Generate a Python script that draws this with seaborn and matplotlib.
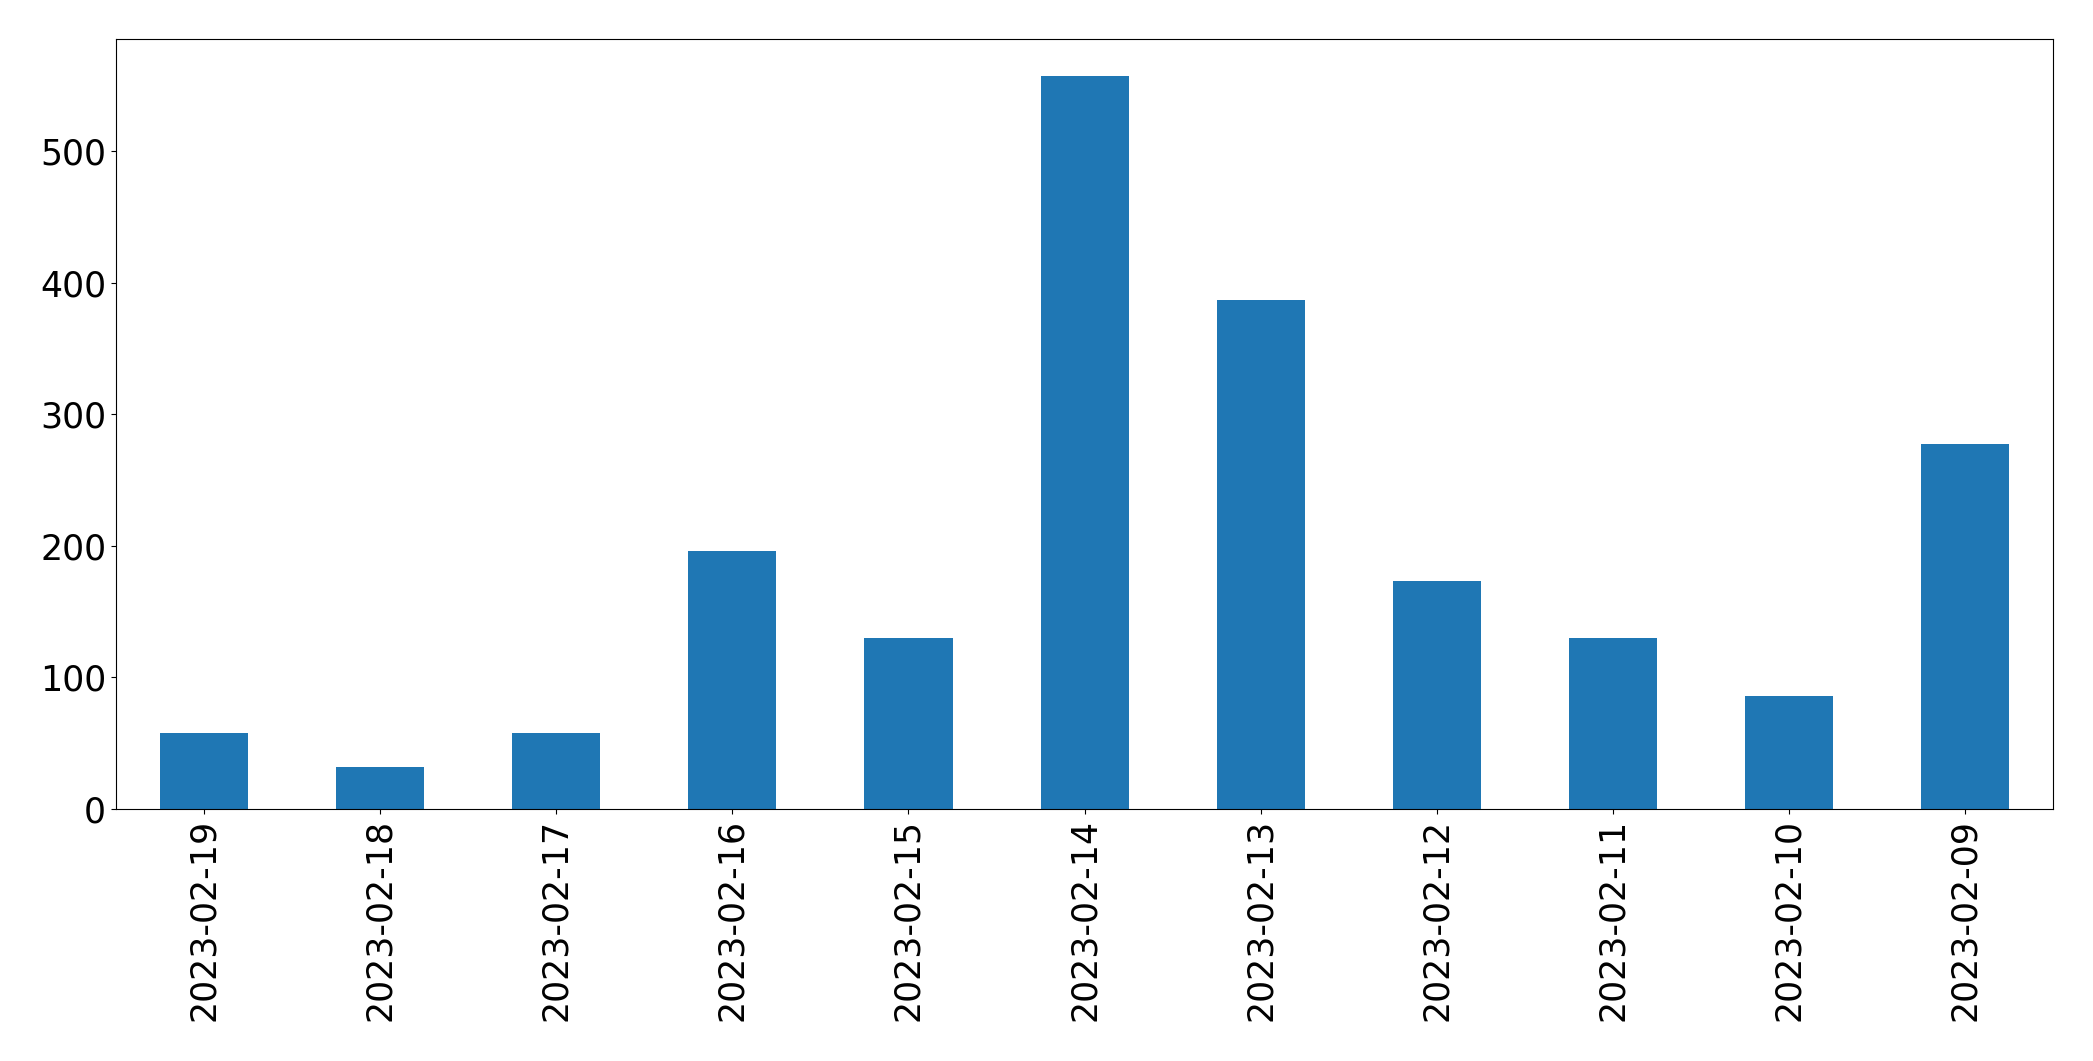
import matplotlib
matplotlib.use("Agg")
import matplotlib.pyplot as plt
import seaborn as sns
import pandas as pd

# daily counts, newest first (as in the original chart)
dates = ["2023-02-19", "2023-02-18", "2023-02-17", "2023-02-16", "2023-02-15",
         "2023-02-14", "2023-02-13", "2023-02-12", "2023-02-11", "2023-02-10",
         "2023-02-09"]
counts = [58, 32, 58, 196, 130, 557, 387, 173, 130, 86, 277]

df = pd.DataFrame({"date": dates, "count": counts})

fig, ax = plt.subplots(figsize=(20.93, 10.61), dpi=100)
sns.barplot(data=df, x="date", y="count", color="#1f77b4", saturation=1,
            width=0.5, ax=ax)

ax.set_xlabel("")
ax.set_ylabel("")
ax.tick_params(axis="both", labelsize=25)
ax.tick_params(axis="x", rotation=90)
ax.set_xlim(-0.5, len(dates) - 0.5)
for s in ax.spines.values():
    s.set_color("black")

plt.subplots_adjust(left=0.0554, right=0.981, top=0.963, bottom=0.2375)
plt.savefig("out.png", dpi=100)
